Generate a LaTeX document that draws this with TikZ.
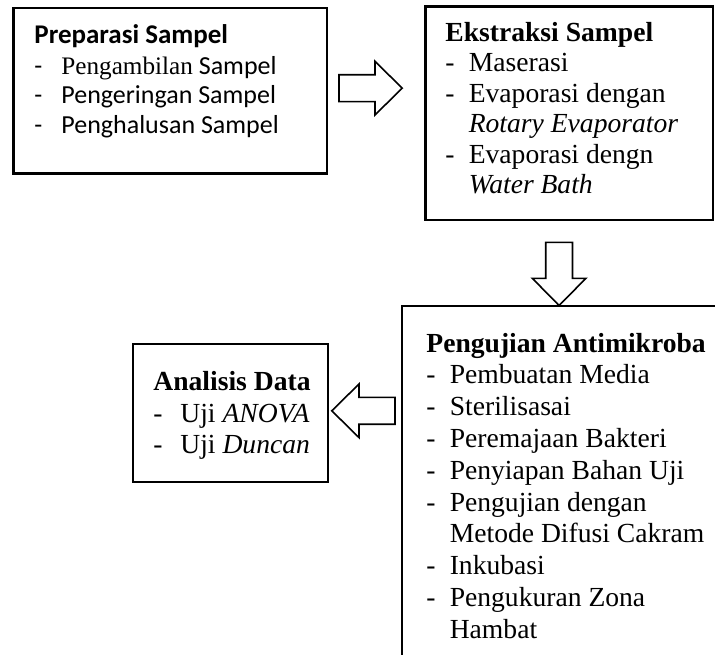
\documentclass[tikz,border=0pt]{standalone}
\usepackage{fontspec}
\setmainfont{Liberation Serif}
\newfontfamily\calibri{Carlito}
\newcommand{\butir}[1][11.7pt]{\makebox[#1][l]{-}}
\newcommand{\lanjut}[1][11.7pt]{\hspace*{#1}}

\begin{document}
\begin{tikzpicture}[x=0.5pt,y=-0.5pt,
    kotak/.style={draw,line width=1.15pt,anchor=north west,inner sep=0pt},
    baris/.style={anchor=north west,inner sep=0pt,text depth=4pt,text height=#1,
                  font=\fontsize{13.8}{16}\selectfont},
    baris/.default=11pt,
    panah/.pic={\draw[line width=0.8pt,fill=white] (0pt,-6.7pt) -- (18pt,-6.7pt) -- (18pt,-13.4pt)
        -- (31.6pt,0pt) -- (18pt,13.4pt) -- (18pt,6.7pt) -- (0pt,6.7pt) -- cycle;}]

  \clip (0,0) rectangle (715,654);
  \fill[white] (0,0) rectangle (715,654);

  % kotak
  \node[kotak,minimum width=156.7pt,minimum height=82.8pt] (prep) at (12.3,6.7) {};
  \node[kotak,minimum width=143.85pt,minimum height=106.85pt] (ekstr) at (424.3,5.3) {};
  \node[kotak,minimum width=165pt,minimum height=180pt] (uji) at (401,305) {};
  \node[kotak,minimum width=97.5pt,minimum height=69.15pt] (anal) at (131.7,342.7) {};

  % preparasi
  \node[baris=10.25pt,text depth=5.1pt,font=\calibri\fontsize{13.5}{15}\selectfont] (prep0) at (34,22.2) {\textbf{Preparasi Sampel}};
  \node[baris=10.25pt,font=\calibri\fontsize{13}{15}\selectfont] (prep1) at (prep0.south west) {\butir[13.5pt]{\rmfamily\fontsize{12.6}{15}\selectfont Pengambilan} Sampel};
  \node[baris=10.25pt,font=\calibri\fontsize{13}{15}\selectfont] (prep2) at (prep1.south west) {\butir[13.5pt]Pengeringan Sampel};
  \node[baris=10.25pt,font=\calibri\fontsize{13}{15}\selectfont] (prep3) at (prep2.south west) {\butir[13.5pt]Penghalusan Sampel};

  % ekstraksi
  \node[baris=10.85pt] (ekstr0) at (445,19) {\textbf{Ekstraksi Sampel}};
  \node[baris=10.85pt] (ekstr1) at (ekstr0.south west) {\butir Maserasi};
  \node[baris=10.85pt] (ekstr2) at (ekstr1.south west) {\butir Evaporasi dengan};
  \node[baris=10.85pt] (ekstr3) at (ekstr2.south west) {\lanjut\textit{Rotary Evaporator}};
  \node[baris=10.85pt] (ekstr4) at (ekstr3.south west) {\butir Evaporasi dengn};
  \node[baris=10.85pt] (ekstr5) at (ekstr4.south west) {\lanjut\textit{Water Bath}};

  % pengujian
  \node[baris=11.5pt] (uji0) at (426,328.7) {\textbf{Pengujian Antimikroba}};
  \node[baris=11.5pt] (uji1) at (uji0.south west) {\butir Pembuatan Media};
  \node[baris=11.5pt] (uji2) at (uji1.south west) {\butir Sterilisasai};
  \node[baris=11.5pt] (uji3) at (uji2.south west) {\butir Peremajaan Bakteri};
  \node[baris=11.5pt] (uji4) at (uji3.south west) {\butir Penyiapan Bahan Uji};
  \node[baris=11.5pt] (uji5) at (uji4.south west) {\butir Pengujian dengan};
  \node[baris=11.5pt] (uji6) at (uji5.south west) {\lanjut Metode Difusi Cakram};
  \node[baris=11.5pt] (uji7) at (uji6.south west) {\butir Inkubasi};
  \node[baris=11.5pt] (uji8) at (uji7.south west) {\butir Pengukuran Zona};
  \node[baris=11.5pt] (uji9) at (uji8.south west) {\lanjut Hambat};

  % analisis
  \node[baris=11.4pt] (anal0) at (153,367.2) {\textbf{Analisis Data}};
  \node[baris=11.4pt] (anal1) at (anal0.south west) {\butir[13.5pt]Uji \textit{ANOVA}};
  \node[baris=11.4pt] (anal2) at (anal1.south west) {\butir[13.5pt]Uji \textit{Duncan}};

  % panah
  \pic at ([xshift=5.5pt,yshift=1.25pt]prep.east) {panah};
  \pic[rotate=-90] at ([xshift=-5.1pt,yshift=-10.5pt]ekstr.south) {panah};
  \pic[rotate=180] at ([xshift=33pt,yshift=1.1pt]anal.east) {panah};
\end{tikzpicture}
\end{document}
